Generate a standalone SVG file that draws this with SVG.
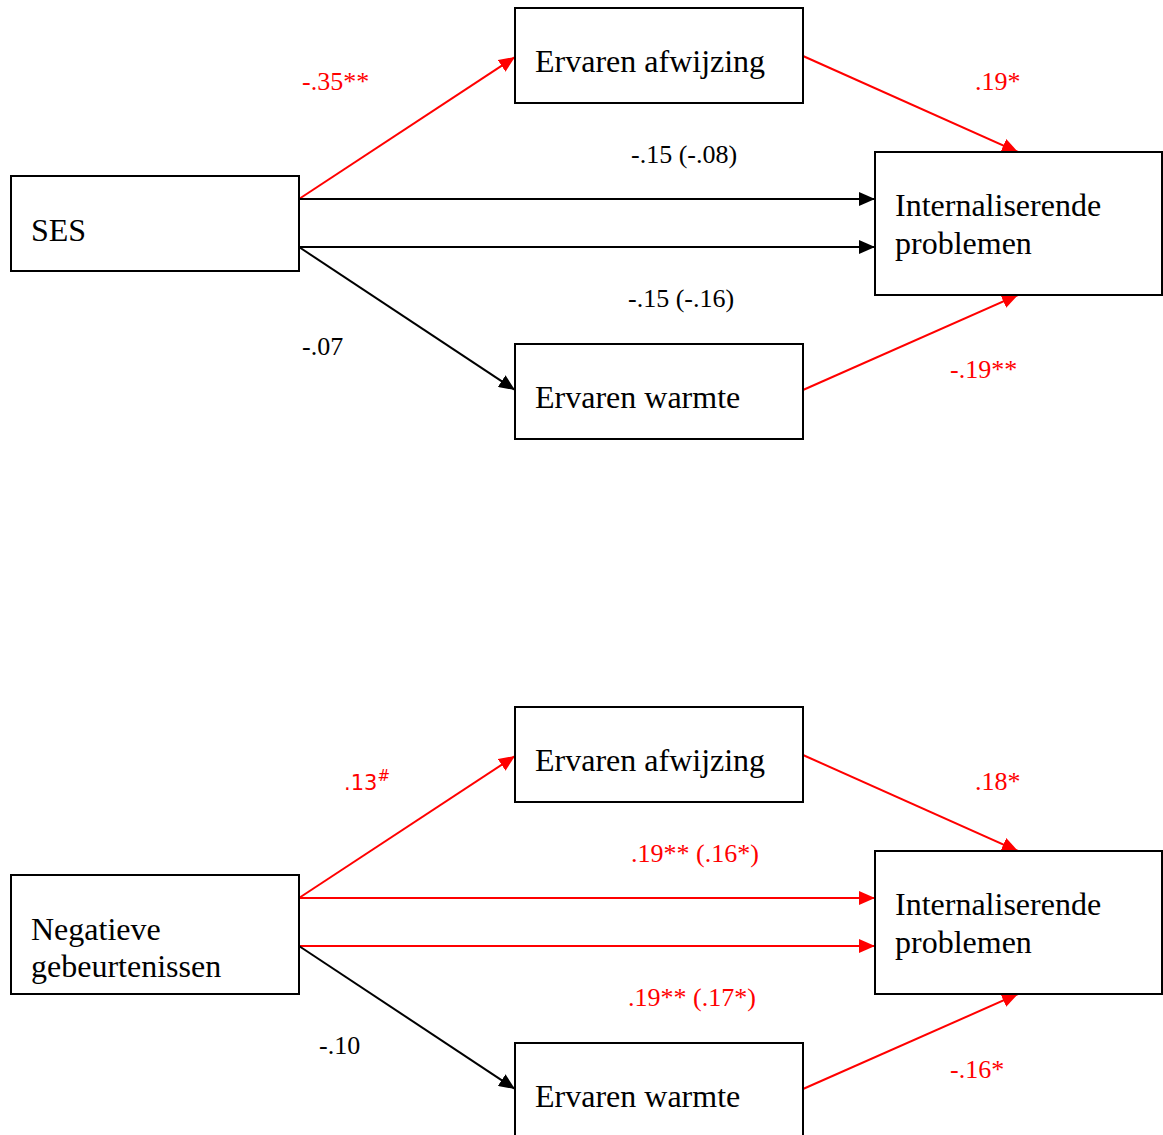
<svg xmlns="http://www.w3.org/2000/svg" width="1163" height="1135" viewBox="0 0 1163 1135">
<style>
.box{fill:#fff;stroke:#000;stroke-width:2}
.nt{font-family:"Liberation Serif","Times New Roman",serif;font-size:32px;fill:#000}
.lb{font-family:"Liberation Serif","Times New Roman",serif;font-size:26px}
.k{stroke:#000;stroke-width:2;fill:none}
.r{stroke:#ff0000;stroke-width:2;fill:none}
.kt{fill:#000}
.rt{fill:#ff0000}
</style>
<defs>
<marker id="ak" markerUnits="userSpaceOnUse" markerWidth="18" markerHeight="14" refX="16" refY="7" orient="auto"><path d="M0,0 L16,7 L0,14 Z" fill="#000"/></marker>
<marker id="ar" markerUnits="userSpaceOnUse" markerWidth="18" markerHeight="14" refX="16" refY="7" orient="auto"><path d="M0,0 L16,7 L0,14 Z" fill="#ff0000"/></marker>
</defs>
<rect width="1163" height="1135" fill="#fff"/>
<g id="connectors">
<line class="r" x1="299" y1="199" x2="515" y2="57" marker-end="url(#ar)"/>
<line class="k" x1="299" y1="199" x2="875" y2="199" marker-end="url(#ak)"/>
<line class="k" x1="299" y1="247" x2="875" y2="247" marker-end="url(#ak)"/>
<line class="k" x1="299" y1="247" x2="515" y2="390" marker-end="url(#ak)"/>
<line class="r" x1="803" y1="56" x2="1018" y2="152" marker-end="url(#ar)"/>
<line class="r" x1="803" y1="390" x2="1018" y2="295" marker-end="url(#ar)"/>
<line class="r" x1="299" y1="898" x2="515" y2="756" marker-end="url(#ar)"/>
<line class="r" x1="299" y1="898" x2="875" y2="898" marker-end="url(#ar)"/>
<line class="r" x1="299" y1="946" x2="875" y2="946" marker-end="url(#ar)"/>
<line class="k" x1="299" y1="946" x2="515" y2="1089" marker-end="url(#ak)"/>
<line class="r" x1="803" y1="755" x2="1018" y2="851" marker-end="url(#ar)"/>
<line class="r" x1="803" y1="1089" x2="1018" y2="994" marker-end="url(#ar)"/>
<text class="lb rt" x="302" y="90">-.35**</text>
<text class="lb rt" x="975" y="90">.19*</text>
<text class="lb kt" x="631" y="163">-.15 (-.08)</text>
<text class="lb kt" x="628" y="307">-.15 (-.16)</text>
<text class="lb kt" x="302" y="355">-.07</text>
<text class="lb rt" x="950" y="378">-.19**</text>
<text class="rt" x="344" y="790" font-family="DejaVu Sans,Verdana,sans-serif" font-size="21">.13<tspan font-size="15" dy="-9">#</tspan></text>
<text class="lb rt" x="975" y="790">.18*</text>
<text class="lb rt" x="631" y="862">.19** (.16*)</text>
<text class="lb rt" x="628" y="1006">.19** (.17*)</text>
<text class="lb kt" x="319" y="1054">-.10</text>
<text class="lb rt" x="950" y="1078">-.16*</text>
</g>
<g id="ses"><rect class="box" x="11" y="176" width="288" height="95"/><text class="nt" x="31" y="241">SES</text></g>
<g id="afwijzing1"><rect class="box" x="515" y="8" width="288" height="95"/><text class="nt" x="535" y="72">Ervaren afwijzing</text></g>
<g id="internal1"><rect class="box" x="875" y="152" width="287" height="143"/><text class="nt" x="895" y="216">Internaliserende</text><text class="nt" x="895" y="254">problemen</text></g>
<g id="warmte1"><rect class="box" x="515" y="344" width="288" height="95"/><text class="nt" x="535" y="408">Ervaren warmte</text></g>
<g id="negatief"><rect class="box" x="11" y="875" width="288" height="119"/><text class="nt" x="31" y="940">Negatieve</text><text class="nt" x="31" y="977">gebeurtenissen</text></g>
<g id="afwijzing2"><rect class="box" x="515" y="707" width="288" height="95"/><text class="nt" x="535" y="771">Ervaren afwijzing</text></g>
<g id="internal2"><rect class="box" x="875" y="851" width="287" height="143"/><text class="nt" x="895" y="915">Internaliserende</text><text class="nt" x="895" y="953">problemen</text></g>
<g id="warmte2"><rect class="box" x="515" y="1043" width="288" height="95"/><text class="nt" x="535" y="1107">Ervaren warmte</text></g>
</svg>
